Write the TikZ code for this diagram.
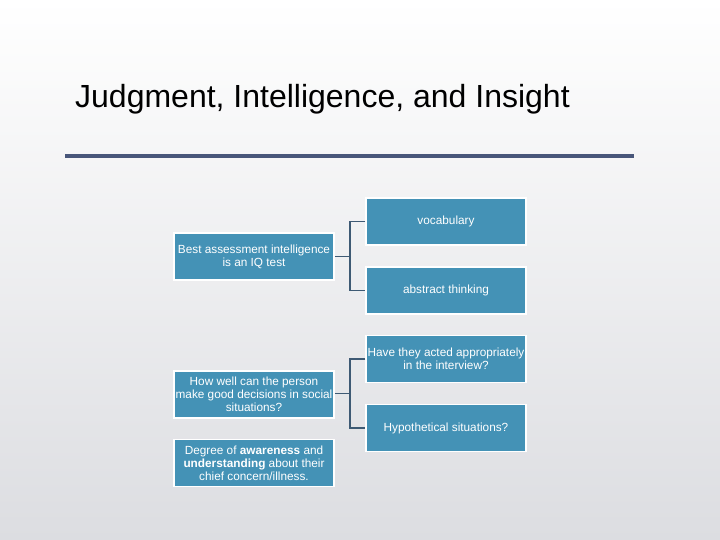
\documentclass[tikz,border=0pt]{standalone}
\usepackage{fontspec}
\setmainfont{Liberation Sans}
\definecolor{boxblue}{RGB}{68,146,182}
\definecolor{linkcol}{RGB}{62,90,116}
\definecolor{rulecol}{RGB}{72,86,122}
\definecolor{bgbot}{RGB}{220,221,225}
\tikzset{
  box/.style={draw=white, line width=1.5pt, fill=boxblue, minimum width=160pt, minimum height=47pt,
    align=center, text=white, font=\fontsize{11.8}{13}\selectfont, inner sep=0pt},
  link/.style={draw=linkcol, line width=1.8pt}
}
\begin{document}
\begin{tikzpicture}[x=1pt,y=-1pt]
\shade[top color=white, bottom color=bgbot] (0,0) rectangle (720,540);
\useasboundingbox (0,0) rectangle (720,540);
\node[anchor=base west, font=\fontsize{32}{34}\selectfont, inner sep=0pt] (title) at (75,108) {Judgment, Intelligence, and Insight};
\draw[rulecol, line width=4pt] (65,156) -- (634,156);

\node[box] (voc) at (446,221.5) {vocabulary};
\node[box] (abs) at (446,290.5) {abstract thinking};
\node[box] (iq) at (254,256.5) {Best assessment intelligence\\is an IQ test};
\node[box] (act) at (446,359) {Have they acted appropriately\\in the interview?};
\node[box] (hyp) at (446,428) {Hypothetical situations?};
\node[box] (how) at (254,394.5) {How well can the person\\make good decisions in social\\situations?};
\node[box] (deg) at (254,463) {Degree of \textbf{awareness} and\\\textbf{understanding} about their\\chief concern/illness.};

\coordinate (b1) at (350,256.5);
\draw[link] (iq.east) -- (b1);
\draw[link] (voc.west) -| (b1) |- (abs.west);
\coordinate (b2) at (350,393.5);
\draw[link] (how.east |- b2) -- (b2);
\draw[link] (act.west) -| (b2) |- (hyp.west);
\end{tikzpicture}
\end{document}
